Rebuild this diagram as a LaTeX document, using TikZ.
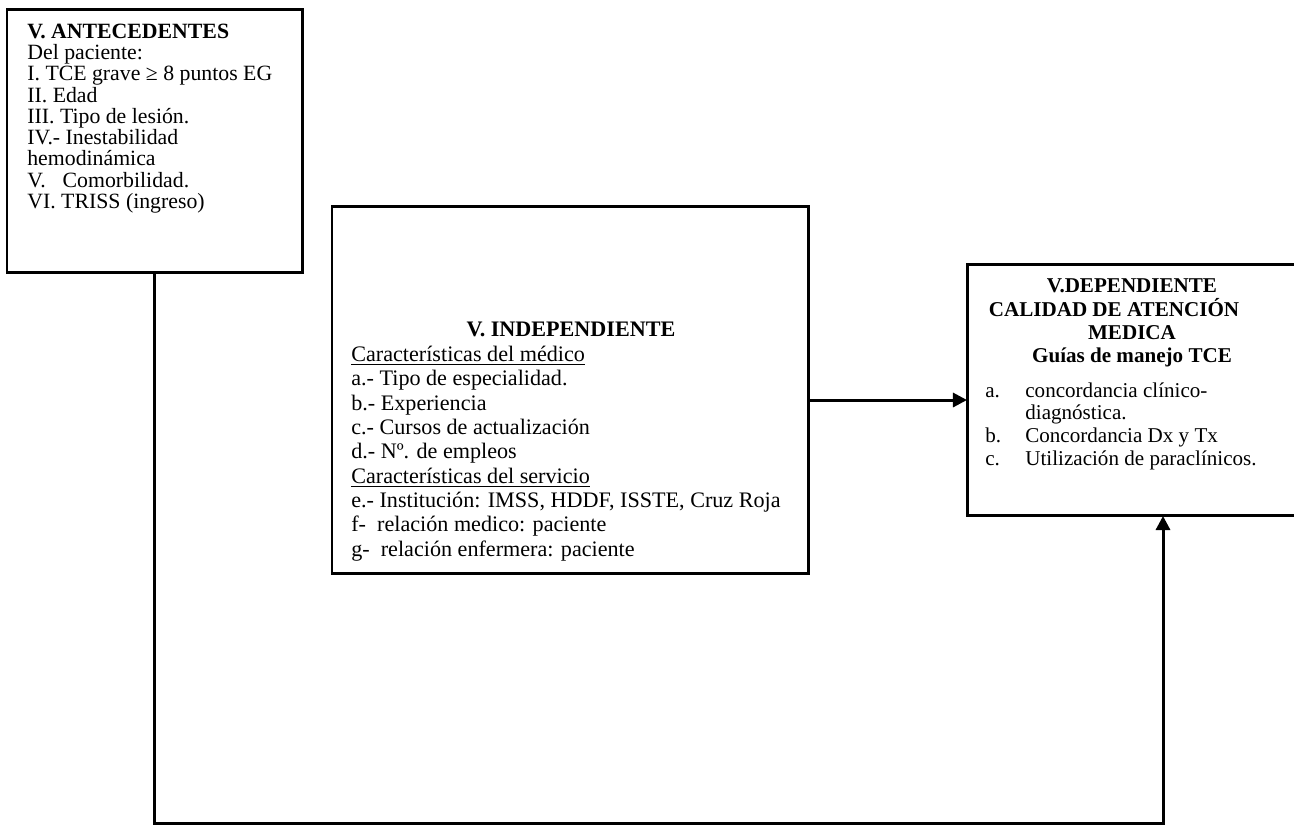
\documentclass[tikz,border=0pt]{standalone}
\usepackage{fontspec}
\setmainfont{Liberation Serif}
\usetikzlibrary{arrows.meta}

\begin{document}
\begin{tikzpicture}[x=0.02cm,y=-0.02cm,
  box/.style={draw,line width=1.7pt,inner sep=0pt,outer sep=0pt,anchor=north west},
  txt/.style={inner sep=0pt,align=left,anchor=north west,font=\fontsize{12.6}{13.85}\selectfont},
  link/.style={line width=1.7pt,-{Triangle[length=8pt,width=8pt]}}]
  \useasboundingbox (0,0) rectangle (1294,826);
  % the three boxes
  \node[box,minimum width=5.92cm,minimum height=5.28cm] (ante) at (7,9) {};
  \node[box,minimum width=9.54cm,minimum height=7.36cm] (indep) at (332,206) {};
  \node[box,minimum width=6.66cm,minimum height=5.04cm] (dep) at (967,264) {};
  % texts
  \node[txt,font=\fontsize{12.4}{12.1}\selectfont] (antetext) at (27,23.5)
    {\textbf{V. ANTECEDENTES}\\
     Del paciente:\\
     I. TCE grave ≥ 8 puntos EG\\
     II. Edad\\
     III. Tipo de lesión.\\
     IV.- Inestabilidad\\
     hemodinámica\\
     V.\hspace{0.34cm}Comorbilidad.\\
     VI. TRISS (ingreso)};
  \node[inner sep=0pt,anchor=base,font=\bfseries\fontsize{12.6}{14}\selectfont] (indtitle) at (571,336) {V. INDEPENDIENTE};
  \node[txt] (indlist) at (351,345.8)
    {\underline{Características del médico}\\
     a.- Tipo de especialidad.\\
     b.- Experiencia\\
     c.- Cursos de actualización\\
     d.- Nº. de empleos\\
     \underline{Características del servicio}\\
     e.- Institución: IMSS, HDDF, ISSTE, Cruz Roja\\
     f-\ \ relación medico: paciente\\
     g-\ \ relación enfermera: paciente};
  \node[inner sep=0pt,anchor=north,align=center,font=\bfseries\fontsize{12}{13.2}\selectfont] (deptitle) at (1132,278.7)
    {V.DEPENDIENTE\\
     CALIDAD DE ATENCIÓN\hspace*{0.72cm}\null\\
     MEDICA\\
     Guías de manejo TCE};
  \node[txt,font=\fontsize{12}{12.9}\selectfont] (deplist) at (985,382.2)
    {\makebox[0.8cm][l]{a.}concordancia clínico-\\
     \hspace*{0.8cm}diagnóstica.\\
     \makebox[0.8cm][l]{b.}Concordancia Dx y Tx\\
     \makebox[0.8cm][l]{c.}Utilización de paraclínicos.};
  % connectors
  \coordinate (mid) at (888,400);
  \coordinate (loop) at (1163,823);
  \draw[link] (indep.east |- mid) -- (dep.west |- mid);
  \draw[link] (ante.south) |- (loop) -- (dep.south -| loop);
\end{tikzpicture}
\end{document}
